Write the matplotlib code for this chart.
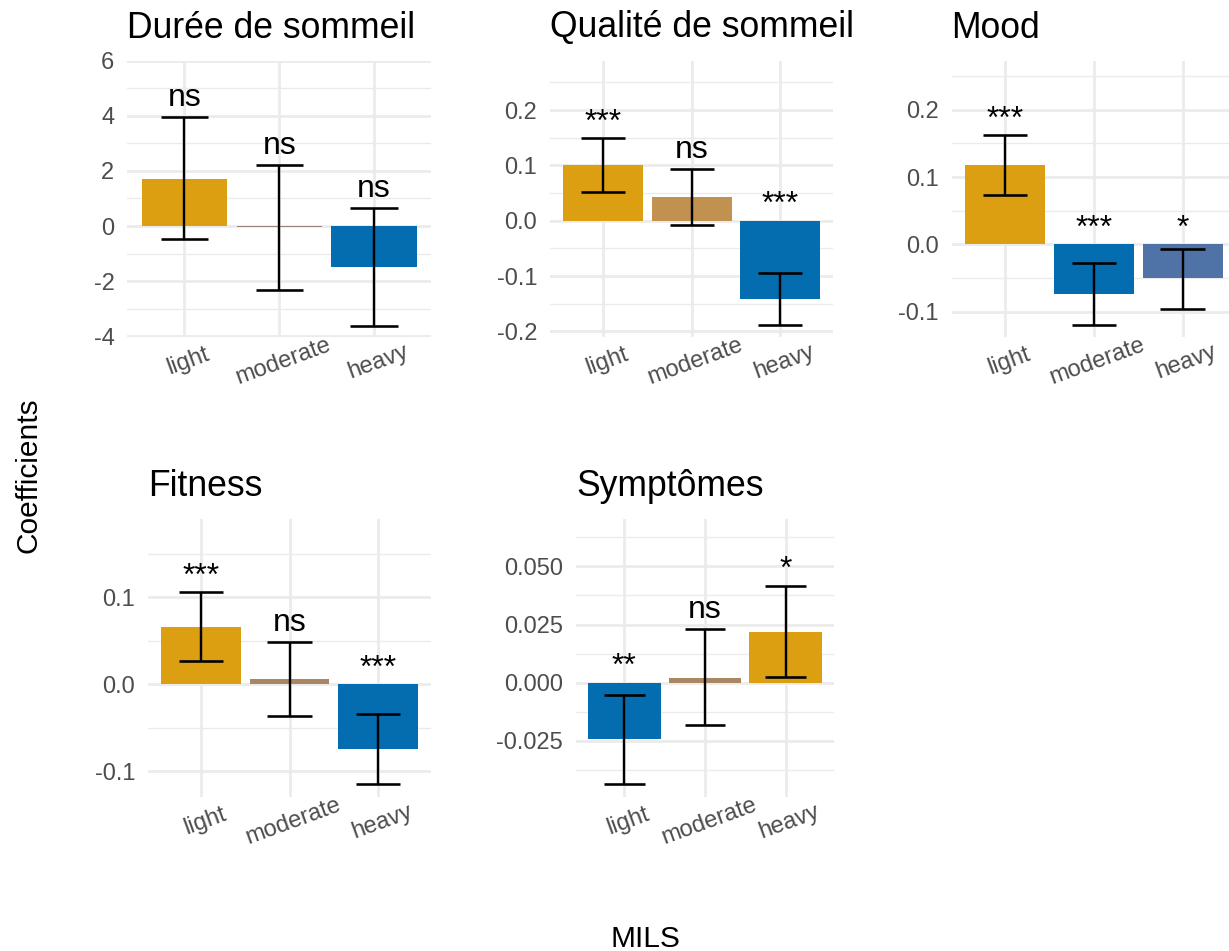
import matplotlib
matplotlib.use("Agg")
import matplotlib.pyplot as plt
from matplotlib.ticker import FixedLocator
from matplotlib.transforms import ScaledTranslation

plt.rcParams['font.family'] = ['Liberation Sans', 'DejaVu Sans']
plt.rcParams['axes.unicode_minus'] = False

# ---------------- data ----------------
categories = ["light", "moderate", "heavy"]

titles = ["Durée de sommeil", "Qualité de sommeil", "Mood", "Fitness", "Symptômes"]

coef_duree = [1.71, -0.05, -1.48]
low_duree = [-0.47, -2.32, -3.63]
up_duree = [3.94, 2.23, 0.64]
sig_duree = ["ns", "ns", "ns"]

coef_qualite = [0.101, 0.042, -0.141]
low_qualite = [0.052, -0.008, -0.189]
up_qualite = [0.149, 0.093, -0.094]
sig_qualite = ["***", "ns", "***"]

coef_mood = [0.118, -0.074, -0.0505]
low_mood = [0.074, -0.120, -0.096]
up_mood = [0.162, -0.028, -0.0074]
sig_mood = ["***", "***", "*"]

coef_fitness = [0.0655, 0.0064, -0.0744]
low_fitness = [0.0264, -0.036, -0.1146]
up_fitness = [0.1057, 0.049, -0.034]
sig_fitness = ["***", "ns", "***"]

coef_sympt = [-0.0242, 0.0022, 0.0219]
low_sympt = [-0.0435, -0.0183, 0.0026]
up_sympt = [-0.0052, 0.023, 0.0417]
sig_sympt = ["**", "ns", "*"]

yticks_duree = [-4, -2, 0, 2, 4, 6]
ylabels_duree = ["-4", "-2", "0", "2", "4", "6"]
yticks_qualite = [-0.2, -0.1, 0.0, 0.1, 0.2]
ylabels_qualite = ["-0.2", "-0.1", "0.0", "0.1", "0.2"]
yticks_mood = [-0.1, 0.0, 0.1, 0.2]
ylabels_mood = ["-0.1", "0.0", "0.1", "0.2"]
yticks_fitness = [-0.1, 0.0, 0.1]
ylabels_fitness = ["-0.1", "0.0", "0.1"]
yticks_sympt = [-0.025, 0.0, 0.025, 0.050]
ylabels_sympt = ["-0.025", "0.000", "0.025", "0.050"]

# ---------------- styling ----------------
GOLD = "#DB9F11"
BLUE = "#036DB0"
fills = [
    [GOLD, "#9C8478", BLUE],
    [GOLD, "#C19150", BLUE],
    [GOLD, BLUE, "#4F73A6"],
    [GOLD, "#A98762", BLUE],
    [BLUE, "#A98762", GOLD],
]

W, H = 1229, 951
DPI = 100
fig = plt.figure(figsize=(W / DPI, H / DPI), dpi=DPI)
fig.patch.set_facecolor("white")

# panel boxes in pixels: left, top, right, bottom
boxes = [
    (127.5, 60.5, 431, 337),
    (550, 60.5, 833.5, 337),
    (951.5, 60.5, 1236, 337),
    (148, 519, 431, 797),
    (576, 519, 834, 797),
]
ylims = [(-4.02, 6.0), (-0.2103, 0.2897), (-0.1376, 0.2731), (-0.1295, 0.190), (-0.0492, 0.0704)]

panels = [
    (coef_duree, low_duree, up_duree, sig_duree, yticks_duree, ylabels_duree),
    (coef_qualite, low_qualite, up_qualite, sig_qualite, yticks_qualite, ylabels_qualite),
    (coef_mood, low_mood, up_mood, sig_mood, yticks_mood, ylabels_mood),
    (coef_fitness, low_fitness, up_fitness, sig_fitness, yticks_fitness, ylabels_fitness),
    (coef_sympt, low_sympt, up_sympt, sig_sympt, yticks_sympt, ylabels_sympt),
]

GRID = "#EBEBEB"
TICK_COLOR = "#4D4D4D"
px = 72.0 / DPI  # points per pixel
shift = ScaledTranslation(4.0 / DPI, 0, fig.dpi_scale_trans)

for i, (coef, low, up, sig, yt, yl) in enumerate(panels):
    L, T, R, B = boxes[i]
    ax = fig.add_axes([L / W, (H - B) / H, (R - L) / W, (B - T) / H])
    ax.set_facecolor("white")
    for s in ax.spines.values():
        s.set_visible(False)
    x = list(range(1, len(categories) + 1))
    ax.set_xlim(0.4, 3.6)
    ax.set_ylim(*ylims[i])

    # grid
    ax.set_axisbelow(True)
    ax.set_xticks(x)
    ax.set_xticklabels(categories)
    ax.set_yticks(yt)
    ax.set_yticklabels(yl)
    minors = [(yt[k] + yt[k + 1]) / 2 for k in range(len(yt) - 1)]
    step = yt[1] - yt[0]
    minors = [yt[0] - step / 2] + minors + [yt[-1] + step / 2]
    ax.yaxis.set_minor_locator(FixedLocator(minors))
    ax.grid(True, which="major", axis="both", color=GRID, lw=2.7 * px)
    ax.grid(True, which="minor", axis="y", color=GRID, lw=1.4 * px)
    ax.tick_params(axis="both", which="both", length=0)
    ax.tick_params(axis="y", pad=13 * px, labelsize=17, labelcolor=TICK_COLOR)
    ax.tick_params(axis="x", pad=24.5 * px, labelsize=17, labelcolor=TICK_COLOR)
    for lbl in ax.get_xticklabels():
        lbl.set_rotation(20)
        lbl.set_ha("center")
        lbl.set_va("center")
        lbl.set_rotation_mode("anchor")
        lbl.set_transform(lbl.get_transform() + shift)

    # bars
    ax.bar(x, coef, width=0.9, color=fills[i], zorder=2)
    # error bars
    ax.vlines(x, low, up, color="black", lw=2.4 * px, zorder=3)
    ax.hlines(low, [v - 0.25 for v in x], [v + 0.25 for v in x], color="black", lw=2.6 * px, zorder=3)
    ax.hlines(up, [v - 0.25 for v in x], [v + 0.25 for v in x], color="black", lw=2.6 * px, zorder=3)
    # significance labels
    for xi, u, s in zip(x, up, sig):
        yy = max(u, 0.0)
        off = 11 if s == "ns" else 7.5
        ax.annotate(s, xy=(xi, yy), xytext=(0, off * px), textcoords="offset points",
                    ha="center", va="baseline", fontsize=23, color="black", zorder=4,
                    annotation_clip=False)

    ax.set_title(titles[i], loc="left", fontsize=25.6, color="black", pad=23 * px)

fig.text(37 / W, 0.5, "Coefficients", rotation=90, rotation_mode="anchor",
         ha="center", va="baseline", fontsize=21.5, color="black")
fig.text(645 / W, (H - 946.7) / H, "MILS", ha="center", va="baseline",
         fontsize=21.5, color="black")

fig.savefig("out.png", dpi=DPI, facecolor="white")
